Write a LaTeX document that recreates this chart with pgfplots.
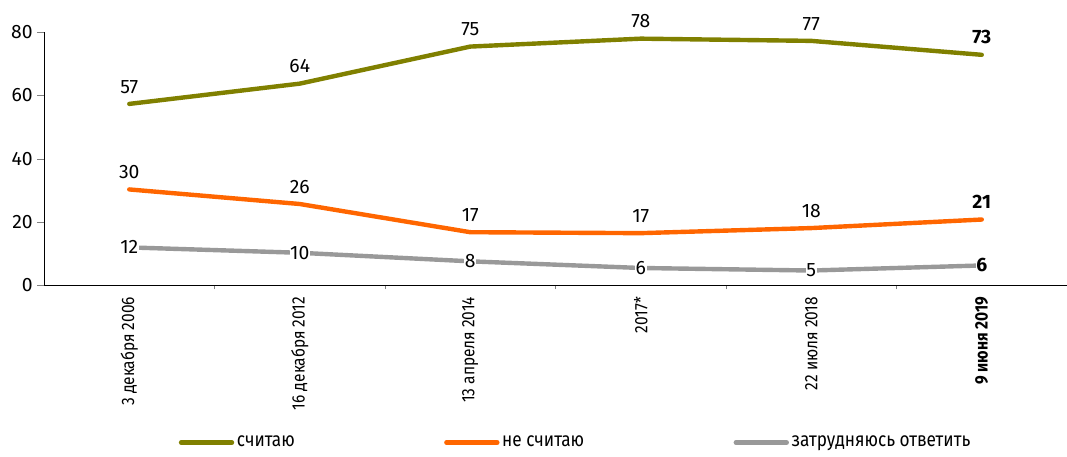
\documentclass[border=0pt]{standalone}
\usepackage{pgfplots}
\pgfplotsset{compat=1.18}
\usetikzlibrary{calc}
\usepackage{fontspec}
\setmainfont{Fira Sans}
\newfontfamily\cond[FakeStretch=0.86]{Fira Sans}
\definecolor{cgreen}{RGB}{128,128,0}
\definecolor{corange}{RGB}{255,102,0}
\definecolor{cgray}{RGB}{153,153,153}
\begin{document}
\begin{tikzpicture}[x=1pt,y=1pt]
\begin{axis}[
  name=ax,
  scale only axis,
  width=767pt, height=190pt,
  xmin=-0.5, xmax=5.5,
  ymin=0, ymax=80,
  axis lines=left,
  axis line style={-, black, line width=0.6pt},
  ytick={0,20,40,60,80},
  xtick={0,1,2,3,4,5},
  xticklabels={3 декабря 2006,16 декабря 2012,13 апреля 2014,2017*,22 июля 2018,\textbf{9 июня 2019}},
  minor xtick={0.5,1.5,2.5,3.5,4.5},
  major x tick style={draw=none},
  minor x tick style={gray, line width=0.6pt},
  tick align=outside,
  major tick length=5pt,
  minor tick length=3pt,
  xticklabel style={rotate=90, anchor=east, font=\cond\fontsize{13.5}{15}\selectfont, xshift=0pt},
  yticklabel style={font=\fontsize{14.5}{16}\selectfont},
  /pgf/number format/assume math mode=true,
  clip=false,
  legend style={at={(0.52,-0.62)}, anchor=center, draw=none, legend columns=3,
    font=\cond\fontsize{15}{17}\selectfont, /tikz/every even column/.append style={column sep=110pt}},
  legend image code/.code={\draw[#1, line width=3.5pt, line cap=round] (0pt,0pt) -- (38pt,0pt);},
  point meta=explicit symbolic,
  nodes near coords={\ifnum\coordindex=5 \textbf{\pgfplotspointmeta}\else\pgfplotspointmeta\fi},
  every node near coord/.append style={font=\fontsize{14.5}{16}\selectfont, black},
]
\addplot[cgreen, line width=3.3pt, line cap=round, line join=round,
  every node near coord/.append style={anchor=south, yshift=3pt}]
  coordinates {(0,57.3)[57] (1,63.7)[64] (2,75.4)[75] (3,77.9)[78] (4,77.2)[77] (5,72.8)[73]};
\addlegendentry{считаю}
\addplot[corange, line width=3.3pt, line cap=round, line join=round,
  every node near coord/.append style={anchor=south, yshift=3pt}]
  coordinates {(0,30.3)[30] (1,25.7)[26] (2,16.8)[17] (3,16.5)[17] (4,18.1)[18] (5,20.8)[21]};
\addlegendentry{не считаю}
\addplot[cgray, line width=3.3pt, line cap=round, line join=round,
  every node near coord/.append style={anchor=center, fill=white, inner sep=0.5pt}]
  coordinates {(0,12)[12] (1,10.3)[10] (2,7.6)[8] (3,5.5)[6] (4,4.7)[5] (5,6.3)[6]};
\addlegendentry{затрудняюсь ответить}
\end{axis}
\pgfresetboundingbox
\path[use as bounding box] ($(ax.south west)+(-33pt,-128.25pt)$) rectangle ($(ax.north east)+(0pt,24pt)$);
\end{tikzpicture}
\end{document}
